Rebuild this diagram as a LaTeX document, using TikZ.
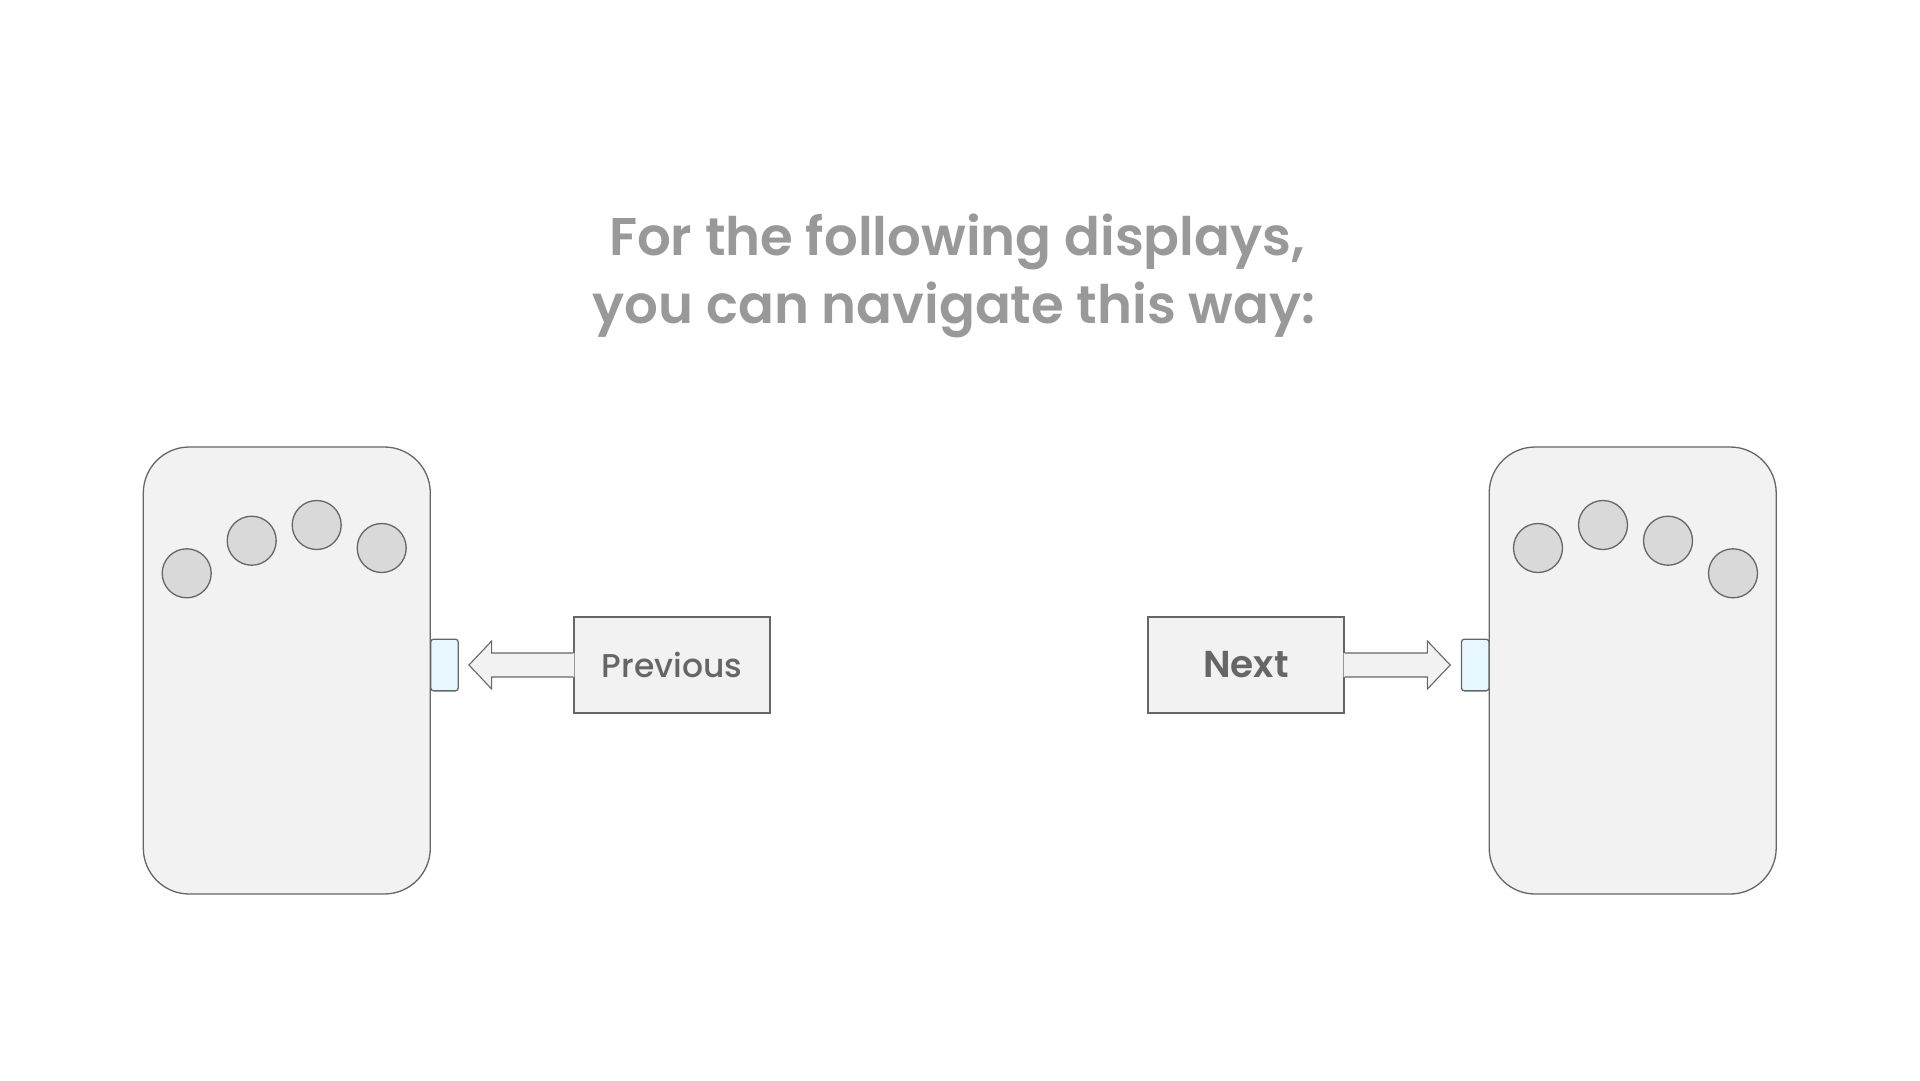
\documentclass[tikz,border=0pt]{standalone}
\usepackage{fontspec}
\usetikzlibrary{calc}
\newfontfamily\popsb{Poppins}[UprightFont=* SemiBold]
\newfontfamily\popmd{Poppins}[UprightFont=* Medium]
\definecolor{devfill}{HTML}{F2F2F2}
\definecolor{edgegray}{HTML}{666666}
\definecolor{dotfill}{HTML}{D9D9D9}
\definecolor{btnfill}{HTML}{E6F8FD}
\definecolor{titlegray}{HTML}{999999}
\definecolor{labelgray}{HTML}{666666}
\tikzset{
  device/.style={draw=edgegray, fill=devfill, line width=1.3pt, rounded corners=46pt,
    minimum width=287pt, minimum height=447pt, inner sep=0pt},
  dot/.style={circle, draw=edgegray, fill=dotfill, line width=1.3pt, minimum size=49pt, inner sep=0pt},
  button/.style={draw=edgegray, fill=btnfill, line width=1.3pt, rounded corners=3pt,
    minimum width=27.6pt, minimum height=51.7pt, inner sep=0pt},
  labelbox/.style={draw=edgegray, fill=devfill, line width=1.3pt, minimum width=196pt,
    minimum height=96pt, inner sep=0pt, text=labelgray},
  arrowfill/.style={fill=devfill},
  arrowline/.style={draw=edgegray, line width=1.1pt, line join=miter},
  titletext/.style={anchor=base, text=titlegray, inner sep=0pt, font=\popsb\fontsize{53}{62}\selectfont}
}
\begin{document}
\begin{tikzpicture}[x=1pt,y=-1pt]
\useasboundingbox[fill=white] (0,0) rectangle (1920,1080);
% title
\node[titletext] (t1) at (957,255.7) {For the following displays,};
\node[titletext] (t2) at (954,323.3) {you can navigate this way:};
% devices
\node[device] (devL) at (286.8,670.5) {};
\node[device] (devR) at (1632.7,670.5) {};
% dots left
\node[dot] (l1) at (186.7,573.3) {};
\node[dot] (l2) at (251.7,540.7) {};
\node[dot] (l3) at (316.7,525) {};
\node[dot] (l4) at (381.7,548) {};
% dots right
\node[dot] (r1) at (1538,548) {};
\node[dot] (r2) at (1603,525) {};
\node[dot] (r3) at (1668,540.7) {};
\node[dot] (r4) at (1733,573.3) {};
% buttons
\node[button] (btnL) at (444.5,665) {};
\node[button] (btnR) at (1475.2,665) {};
% label boxes
\node[labelbox, font=\popmd\fontsize{33}{39}\selectfont] (prev) at (672,665) {Previous};
\node[labelbox, font=\popsb\fontsize{37.5}{45}\selectfont] (next) at (1246,665) {Next};
% left block arrow
\path[arrowfill] ($(prev.west)+(1,-12)$) -- ($(prev.west)+(-81.7,-12)$) -- ($(prev.west)+(-81.7,-24)$)
  -- ($(btnL.east)+(10,0)$) -- ($(prev.west)+(-81.7,24)$) -- ($(prev.west)+(-81.7,12)$) -- ($(prev.west)+(1,12)$) -- cycle;
\draw[arrowline] ($(prev.west)+(0,-12)$) -- ($(prev.west)+(-81.7,-12)$) -- ($(prev.west)+(-81.7,-24)$)
  -- ($(btnL.east)+(10,0)$) -- ($(prev.west)+(-81.7,24)$) -- ($(prev.west)+(-81.7,12)$) -- ($(prev.west)+(0,12)$);
% right block arrow
\path[arrowfill] ($(next.east)+(-1,-12)$) -- ($(next.east)+(82.7,-12)$) -- ($(next.east)+(82.7,-24)$)
  -- ($(btnR.west)+(-10.5,0)$) -- ($(next.east)+(82.7,24)$) -- ($(next.east)+(82.7,12)$) -- ($(next.east)+(-1,12)$) -- cycle;
\draw[arrowline] ($(next.east)+(0,-12)$) -- ($(next.east)+(82.7,-12)$) -- ($(next.east)+(82.7,-24)$)
  -- ($(btnR.west)+(-10.5,0)$) -- ($(next.east)+(82.7,24)$) -- ($(next.east)+(82.7,12)$) -- ($(next.east)+(0,12)$);
\end{tikzpicture}
\end{document}
